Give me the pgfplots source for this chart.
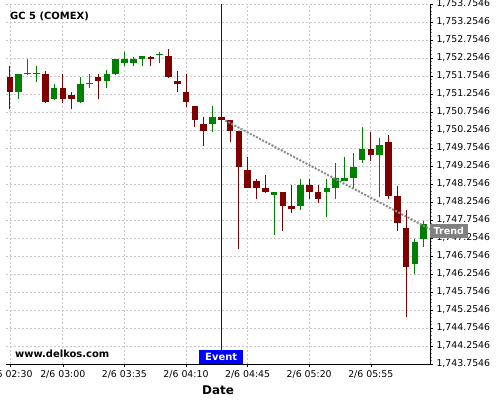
\documentclass[border=0pt]{standalone}
\usepackage{fontspec}
\setmainfont{DejaVu Sans}
\usepackage{pgfplots}
\usepackage{pgfplotstable}
\pgfplotsset{compat=1.18}
\definecolor{cred}{RGB}{128,0,0}
\definecolor{cgreen}{RGB}{0,128,0}
\definecolor{gridc}{RGB}{200,200,200}
\definecolor{trendc}{RGB}{140,140,140}
\definecolor{tagc}{RGB}{128,128,128}

% bullish candles (close > open)
\pgfplotstableread{
t  O         H         L         C
1  1751.319  1751.810  1751.108  1751.810
2  1751.810  1752.218  1751.790  1751.840
3  1751.800  1752.032  1751.596  1751.830
5  1751.116  1751.524  1751.088  1751.413
8  1751.041  1751.719  1751.013  1751.532
9  1751.550  1751.810  1751.413  1751.570
11 1751.624  1751.921  1751.413  1751.810
12 1751.819  1752.227  1751.782  1752.227
13 1752.124  1752.413  1752.024  1752.227
14 1752.124  1752.291  1752.024  1752.227
15 1752.227  1752.310  1752.024  1752.310
17 1752.330  1752.430  1752.107  1752.357
23 1750.430  1750.921  1750.207  1750.616
30 1748.440  1748.532  1747.330  1748.532
33 1748.143  1748.902  1748.032  1748.719
36 1748.541  1748.902  1747.830  1748.643
37 1748.652  1749.330  1748.330  1748.921
38 1748.846  1749.513  1748.846  1748.921
39 1748.930  1749.607  1748.635  1749.235
40 1749.421  1750.330  1749.330  1749.727
42 1749.552  1750.024  1748.402  1749.838
46 1746.541  1747.235  1746.246  1747.152
47 1747.235  1747.735  1747.013  1747.644
}\bull

% bearish candles (close < open)
\pgfplotstableread{
t  O         H         L         C
0  1751.727  1752.032  1750.830  1751.319
4  1751.810  1751.902  1751.013  1751.032
6  1751.413  1751.810  1751.013  1751.124
7  1751.227  1751.302  1750.830  1751.124
10 1751.727  1751.810  1751.108  1751.624
16 1752.274  1752.310  1752.024  1752.235
18 1752.310  1752.505  1751.708  1751.727
19 1751.616  1751.902  1751.302  1751.541
20 1751.310  1751.810  1750.902  1751.041
21 1750.921  1750.921  1750.330  1750.541
22 1750.421  1750.607  1749.819  1750.235
24 1750.616  1750.616  1750.541  1750.541
25 1750.532  1750.532  1749.913  1750.235
26 1750.219  1750.219  1746.941  1749.235
27 1749.143  1749.513  1748.643  1748.643
28 1748.838  1748.902  1748.330  1748.643
29 1748.643  1749.013  1748.513  1748.532
31 1748.532  1748.532  1747.449  1748.143
32 1748.143  1748.719  1747.941  1748.052
34 1748.719  1748.902  1748.330  1748.532
35 1748.532  1748.719  1748.218  1748.346
41 1749.727  1750.207  1749.402  1749.552
43 1749.921  1750.116  1748.330  1748.421
44 1748.421  1748.699  1747.457  1747.663
45 1747.541  1748.032  1745.052  1746.457
}\bear

\begin{document}
\begin{tikzpicture}
\useasboundingbox (0,0) rectangle (500bp,400bp);
\begin{axis}[
  at={(6bp,36bp)}, anchor=south west,
  scale only axis, width=424bp, height=360bp,
  xmin=-0.4545, xmax=47.727,
  ymin=1743.7546, ymax=1753.7546,
  axis x line*=bottom, axis y line*=right,
  axis line style={black, line width=0.8bp},
  xtick={0,6,13,20,27,34,41},
  xticklabels={2/6 02:30,2/6 03:00,2/6 03:35,2/6 04:10,2/6 04:45,2/6 05:20,2/6 05:55},
  ytick={1743.7546,1744.2546,1744.7546,1745.2546,1745.7546,1746.2546,1746.7546,1747.2546,1747.7546,1748.2546,1748.7546,1749.2546,1749.7546,1750.2546,1750.7546,1751.2546,1751.7546,1752.2546,1752.7546,1753.2546,1753.7546},
  yticklabels={{1,743.7546},{1,744.2546},{1,744.7546},{1,745.2546},{1,745.7546},{1,746.2546},{1,746.7546},{1,747.2546},{1,747.7546},{1,748.2546},{1,748.7546},{1,749.2546},{1,749.7546},{1,750.2546},{1,750.7546},{1,751.2546},{1,751.7546},{1,752.2546},{1,752.7546},{1,753.2546},{1,753.7546}},
  scaled y ticks=false,
  minor y tick num=4,
  minor x tick num=3,
  tick align=outside,
  major tick length=3bp, minor tick length=2bp,
  tick style={black, line width=0.6bp},
  minor tick style={gray, line width=0.6bp},
  ticklabel style={font=\fontsize{9.4}{11}\selectfont, text=black},
  grid=major,
  major grid style={gridc, line width=0.8bp, dash pattern=on 2bp off 2bp},
  xlabel={Date},
  xlabel style={font=\bfseries\fontsize{12}{14}\selectfont, at={(axis description cs:0.5,0)}, anchor=base, yshift=-30bp},
]
% wicks
\addplot[draw=none, mark=none, forget plot,
  error bars/.cd, y dir=plus, y explicit, error mark=none,
  error bar style={line width=1bp, draw=cgreen}]
  table[x=t, y=L, y error plus expr=\thisrow{H}-\thisrow{L}] {\bull};
\addplot[draw=none, mark=none, forget plot,
  error bars/.cd, y dir=plus, y explicit, error mark=none,
  error bar style={line width=1bp, draw=cred}]
  table[x=t, y=L, y error plus expr=\thisrow{H}-\thisrow{L}] {\bear};
% bodies
\addplot[draw=none, mark=none, forget plot,
  error bars/.cd, y dir=plus, y explicit, error mark=none,
  error bar style={line width=6.6bp, line cap=butt, draw=cgreen}]
  table[x=t, y=O, y error plus expr=\thisrow{C}-\thisrow{O}] {\bull};
\addplot[draw=none, mark=none, forget plot,
  error bars/.cd, y dir=plus, y explicit, error mark=none,
  error bar style={line width=6.6bp, line cap=butt, draw=cred}]
  table[x=t, y=C, y error plus expr=\thisrow{O}-\thisrow{C}] {\bear};
% trend line
\addplot[trendc, line width=2bp, dash pattern=on 2bp off 1.5bp, forget plot]
  coordinates {(24.45,1750.52) (47.727,1747.50)};
% event line
\addplot[blue, line width=1bp, forget plot]
  coordinates {(24,1743.7546) (24,1753.7546)};
\node[fill=blue, text=white, font=\bfseries\fontsize{10}{12}\selectfont,
  inner xsep=6bp, inner ysep=0pt, minimum height=14bp, anchor=south]
  at (axis cs:24,1743.7546) {Event};
\node[anchor=base west, font=\bfseries\fontsize{10}{12}\selectfont, inner sep=0pt]
  at (rel axis cs:0.0094,0.958) {GC 5 (COMEX)};
\node[anchor=base west, font=\bfseries\fontsize{10}{12}\selectfont, inner sep=0pt]
  at (rel axis cs:0.0212,0.0186) {www.delkos.com};
\coordinate (trendend) at (axis cs:47.727,1747.50);
\end{axis}
\node[fill=tagc, text=white, font=\bfseries\fontsize{9.6}{12}\selectfont,
  inner xsep=3.5bp, inner ysep=0pt, minimum height=14bp, anchor=west, yshift=-1.5bp]
  at (trendend) {Trend};
\end{tikzpicture}
\end{document}
